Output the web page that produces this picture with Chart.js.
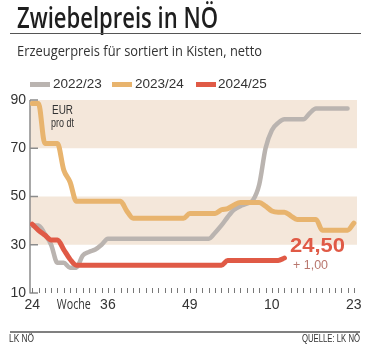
<!DOCTYPE html>
<html>
<head>
<meta charset="utf-8">
<script src="https://cdn.jsdelivr.net/npm/chart.js@4"></script>
<style>
  html, body { margin:0; padding:0; background:#fff; }
  #wrap { position:relative; width:369px; height:352px; overflow:hidden; font-family:"Open Sans","Liberation Sans",sans-serif; color:#2b2b2b; }
  #c { position:absolute; left:0; top:0; }
  .abs { position:absolute; white-space:nowrap; line-height:1; transform-origin:0 0; }
  #title { left:17px; top:2px; font-size:29.5px; font-weight:600; color:#1e1e1e; }
  #rule1 { position:absolute; left:10px; top:33px; width:351px; height:1px; background:#555; }
  #sub { left:17px; top:44px; font-size:14px; color:#333; }
  .sw { position:absolute; height:5px; top:82px; width:20px; }
  .lt { font-family:"Liberation Sans",sans-serif; font-size:13.5px; top:77px; color:#333; }
  #eur1 { left:52px; top:104px; font-family:"Liberation Sans",sans-serif; font-size:12px; color:#333; }
  #eur2 { left:51px; top:117px; font-family:"Liberation Sans",sans-serif; font-size:12px; color:#333; }
  #val { left:290px; top:234px; font-family:"Liberation Sans",sans-serif; font-size:21px; font-weight:bold; color:#e05a46; }
  #chg { left:293px; top:259px; font-family:"Liberation Sans",sans-serif; font-size:12.5px; color:#b9776e; }
  #rule2 { position:absolute; left:10px; top:331px; width:350px; height:2px; background:#808080; }
  #src1 { left:9px; top:334px; font-family:"Liberation Sans",sans-serif; font-size:10px; color:#333; }
  #src2 { left:302px; top:334px; font-family:"Liberation Sans",sans-serif; font-size:10px; color:#333; }
</style>
</head>
<body>
<div id="wrap">
  <canvas id="c" width="369" height="352"></canvas>
  <div id="title" class="abs" data-w="201">Zwiebelpreis in NÖ</div>
  <div id="rule1"></div>
  <div id="sub" class="abs" data-w="245">Erzeugerpreis für sortiert in Kisten, netto</div>
  <div id="legend"></div>
  <div id="eur1" class="abs" data-w="21">EUR</div>
  <div id="eur2" class="abs" data-w="23">pro dt</div>
  <div id="val" class="abs" data-w="55">24,50</div>
  <div id="chg" class="abs" data-w="35">+ 1,00</div>
  <div id="rule2"></div>
  <div id="src1" class="abs" data-w="25">LK NÖ</div>
  <div id="src2" class="abs" data-w="58">QUELLE: LK NÖ</div>
</div>
<script>
// ---- data ----
const weeks = [24,25,26,27,28,29,30,31,32,33,34,35,36,37,38,39,40,41,42,43,44,45,46,47,48,49,50,51,52,
               1,2,3,4,5,6,7,8,9,10,11,12,13,14,15,16,17,18,19,20,21,22,23];
const tickWeeks = [24,36,49,10,23];
const yTicks = [10,30,50,70,90];
const seriesNames = ["2022/23","2023/24","2024/25"];
const price2223 = [38,38,34.5,30,22.5,22.5,20.5,20.5,25.5,27,28,30,32.5,
  32.5,32.5,32.5,32.5,32.5,32.5,32.5,32.5,32.5,32.5,32.5,32.5,32.5,32.5,32.5,32.5,
  35,38,41.5,44.5,46,47,48.5,55,70,77.5,80.5,82,82,82,82,84.5,86.5,86.5,86.5,86.5,86.5,86.5,null];
const price2324 = [88.5,88.5,72,72,72,61,56,48,48,48,48,48,48,48,48,44,
  41,41,41,41,41,41,41,41,41,43,43,43,43,43,44.5,45,46.5,47.5,47.5,47.5,47.5,
  46,44,43.5,43.5,42,40.5,40.5,40.5,40.5,36,36,36,36,36,39];
const price2425 = [38.5,36,34,32,32,28,24,
  21.5,21.5,21.5,21.5,21.5,21.5,21.5,21.5,21.5,21.5,21.5,21.5,21.5,21.5,21.5,21.5,21.5,21.5,21.5,21.5,21.5,21.5,21.5,21.5,
  23.5,23.5,23.5,23.5,23.5,23.5,23.5,23.5,23.5,24.5,
  null,null,null,null,null,null,null,null,null,null,null];
const bands = [[70,90],[30,50]];

const colors = ["#bab4b0","#e8b46e","#e05a46"];
const widths = [4.5,5,5];
const bandColor = "#f4e7da";

// legend (HTML)
const legendPos = [[30,53],[112,135],[196,218]];
const lg = document.getElementById('legend');
seriesNames.forEach((n,k)=>{
  const s = document.createElement('div'); s.className='sw';
  s.style.left = legendPos[k][0]+'px'; s.style.background = colors[k]; lg.appendChild(s);
  const t = document.createElement('div'); t.className='abs lt';
  t.style.left = legendPos[k][1]+'px'; t.textContent = n; lg.appendChild(t);
});

// fit condensed text widths
document.querySelectorAll('[data-w]').forEach(el=>{
  const w = el.getBoundingClientRect().width;
  const target = +el.dataset.w;
  if (w > 0) el.style.transform = 'scaleX(' + (target / w) + ')';
});

const toPts = arr => arr.map((v,i)=>({x:i,y:v}));
const series = [price2223, price2324, price2425];

const decor = {
  id:'decor',
  beforeDatasetsDraw(chart){
    const {ctx, chartArea:ca, scales:{x,y}} = chart;
    ctx.save();
    ctx.fillStyle = bandColor;
    bands.forEach(([a,b])=>{
      const y1 = y.getPixelForValue(b), y2 = y.getPixelForValue(a);
      ctx.fillRect(ca.left, y1, ca.right-ca.left, y2-y1);
    });
    // y axis line + inward ticks
    ctx.strokeStyle = "#8c8c8c"; ctx.lineWidth = 1.5;
    ctx.beginPath();
    ctx.moveTo(ca.left, y.getPixelForValue(90)); ctx.lineTo(ca.left, y.getPixelForValue(10)+0.5);
    yTicks.forEach(v=>{ const p = y.getPixelForValue(v); ctx.moveTo(ca.left, p); ctx.lineTo(ca.left+8, p); });
    ctx.stroke();
    // weekly ticks on x
    ctx.strokeStyle = "#777"; ctx.lineWidth = 1;
    ctx.beginPath();
    const yb = y.getPixelForValue(10);
    weeks.forEach((w,i)=>{ const p = Math.round(x.getPixelForValue(i))+0.5; ctx.moveTo(p, yb); ctx.lineTo(p, yb-5); });
    ctx.stroke();
    // "Woche" label
    ctx.fillStyle = "#333";
    ctx.font = '14px "Open Sans", "Liberation Sans", sans-serif';
    ctx.textAlign = 'center'; ctx.textBaseline = 'middle';
    const wx = x.getPixelForValue(6.6);
    const mw = ctx.measureText('Woche').width;
    ctx.translate(wx, yb+12);
    ctx.scale(34/mw, 1);
    ctx.fillText('Woche', 0, 0);
    ctx.restore();
  }
};

new Chart(document.getElementById('c'), {
  type:'line',
  data:{
    datasets: series.map((s,k)=>({
      label: seriesNames[k], data: toPts(s),
      borderColor: colors[k], borderWidth: widths[k],
      pointRadius:0, fill:false, cubicInterpolationMode:'monotone',
      borderJoinStyle:'round', borderCapStyle:'round', order: 3-k
    }))
  },
  options:{
    responsive:false, animation:false, devicePixelRatio:1,
    layout:{ padding:{ left:0, right:12, top:100, bottom:0 } },
    plugins:{ legend:{display:false}, tooltip:{enabled:false} },
    scales:{
      x:{ type:'linear', min:-0.35, max:51.5,
          grid:{display:false, drawTicks:false}, border:{display:false},
          afterFit(s){ s.height = 352-293; },
          afterBuildTicks(s){ s.ticks = tickWeeks.map(w=>({value: weeks.indexOf(w)})); },
          ticks:{ autoSkip:false, maxRotation:0, padding:4, color:'#333',
                  font:{ family:'"Liberation Sans", sans-serif', size:14 },
                  callback:(v)=> weeks[v] } },
      y:{ min:10, max:90,
          grid:{display:false, drawTicks:false}, border:{display:false},
          afterFit(s){ s.width = 30; },
          afterBuildTicks(s){ s.ticks = yTicks.map(v=>({value:v})); },
          ticks:{ padding:4, color:'#333', font:{ family:'"Liberation Sans", sans-serif', size:14 } } }
    }
  },
  plugins:[decor]
});
</script>
</body>
</html>
